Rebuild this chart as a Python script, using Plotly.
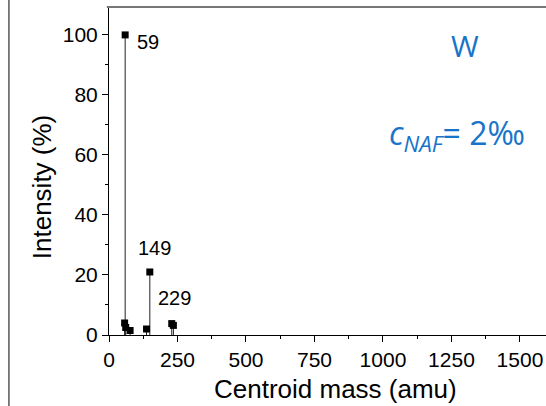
import plotly.graph_objects as go

mass = [57, 59, 61, 77, 137, 149, 229, 235]
intensity = [4.0, 100.0, 2.5, 1.5, 2.0, 21.0, 3.8, 3.2]
peak_labels = [(59, 100, "59"), (149, 21, "149"), (229, 3.8, "229")]
x_ticks = [0, 250, 500, 750, 1000, 1250, 1500]
y_ticks = [0, 20, 40, 60, 80, 100]

stem_x, stem_y = [], []
for m, v in zip(mass, intensity):
    stem_x += [m, m, None]
    stem_y += [0, v, None]

fig = go.Figure()
fig.add_trace(go.Scatter(x=stem_x, y=stem_y, mode="lines",
                         line=dict(color="#222222", width=1), hoverinfo="skip"))
fig.add_trace(go.Scatter(x=mass, y=intensity, mode="markers",
                         marker=dict(symbol="square", size=7, color="black")))

label_pos = {"59": (10, -7), "149": (-14, 24), "229": (-16, 26)}
for m, v, t in peak_labels:
    dx, dy = label_pos[t]
    fig.add_annotation(x=m, y=v, text=t, showarrow=False, xanchor="left", yanchor="middle",
                       xshift=dx, yshift=dy,
                       font=dict(family="Liberation Sans, Arial", size=20, color="black"))

blue = "#1874c9"
fig.add_annotation(x=0.815, y=0.884, xref="paper", yref="paper", text="W",
                   xanchor="center", yanchor="middle",
                   showarrow=False, font=dict(family="Open Sans", size=30, color=blue))
fig.add_annotation(x=0.797, y=0.61, xref="paper", yref="paper",
                   text="<i>c<sub>NAF</sub></i>= 2‰", xanchor="center", yanchor="middle",
                   showarrow=False, font=dict(family="Open Sans", size=32, color=blue))

titlefont = dict(family="Liberation Sans, Arial", size=26, color="black")
fig.add_annotation(x=0.519, y=-0.165, xref="paper", yref="paper", text="Centroid mass (amu)",
                   xanchor="center", yanchor="middle", showarrow=False, font=titlefont)
fig.add_annotation(x=-0.153, y=0.451, xref="paper", yref="paper", text="Intensity (%)",
                   textangle=-90, xanchor="center", yanchor="middle", showarrow=False,
                   font=titlefont)

# page border and top frame
fig.add_shape(type="line", xref="paper", yref="paper", x0=-0.229, x1=-0.229, y0=-0.3, y1=1.1,
              line=dict(color="#555555", width=1.5))
fig.add_shape(type="line", xref="paper", yref="paper", x0=-0.005, x1=1.0, y0=1, y1=1,
              line=dict(color="#777777", width=2))

tickfont = dict(family="Liberation Sans, Arial", size=21, color="black")
fig.update_layout(
    width=546, height=406,
    margin=dict(l=109, r=0, t=7, b=71),
    plot_bgcolor="white", paper_bgcolor="white",
    showlegend=False,
    xaxis=dict(range=[0, 1595], tickvals=x_ticks, ticks="outside", ticklen=6,
               tickcolor="black", showline=True, linecolor="black", linewidth=1,
               showgrid=False, zeroline=False, tickfont=tickfont,
               minor=dict(dtick=125, tick0=0, ticks="outside", ticklen=3, tickcolor="black")),
    yaxis=dict(range=[0, 109.3], tickvals=y_ticks, ticks="outside", ticklen=6,
               tickcolor="black", showline=True, linecolor="black", linewidth=1,
               showgrid=False, zeroline=False, tickfont=tickfont,
               minor=dict(dtick=10, tick0=0, ticks="outside", ticklen=3, tickcolor="black")),
)
fig.write_html("out.html")
